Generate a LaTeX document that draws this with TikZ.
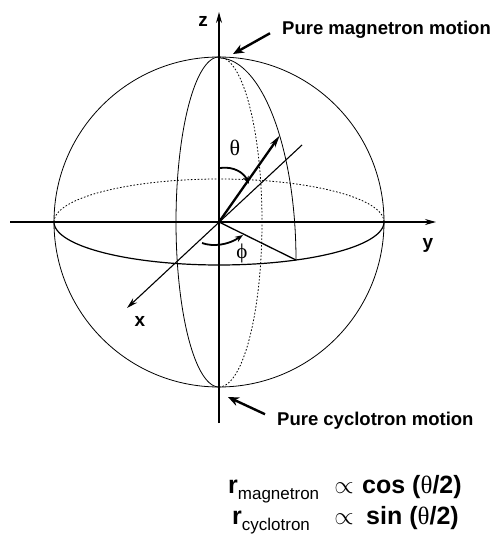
\documentclass[tikz,border=0pt]{standalone}
\usepackage{fontspec}
\setmainfont{Liberation Sans}
\newfontfamily\grk{Liberation Serif}
\usetikzlibrary{arrows.meta}
\begin{document}
\begin{tikzpicture}[x=1pt,y=-1pt,
  outline/.style={line width=0.8pt},
  meridian/.style={line width=0.8pt},
  backline/.style={line width=0.8pt,dash pattern=on 1.6pt off 1.8pt},
  axis/.style={line width=1.3pt,-{Stealth[length=11pt,width=6pt]}},
  vec/.style={line width=2.3pt,-{Stealth[length=12pt,width=6pt]}},
  anglearrow/.style={line width=1.8pt,-{Stealth[length=8pt,width=6pt]}},
  callout/.style={line width=2.4pt,-{Stealth[length=11pt,width=9pt]}},
  lab/.style={font=\bfseries\fontsize{19}{20}\selectfont},
  note/.style={font=\bfseries\fontsize{18.5}{20}\selectfont, anchor=base west, inner sep=0pt},
  formula/.style={font=\bfseries\fontsize{25}{27}\selectfont, inner sep=0pt}]
\useasboundingbox (0,0) rectangle (497,540);
\coordinate (O) at (219,222);
\coordinate (N) at (219,57);
\coordinate (S) at (219,387);
\coordinate (P) at (296,260);
\coordinate (T) at ({219+77*cos(38)},{260-202*sin(38)});
% sphere outline
\draw[outline] (O) circle[radius=165];
% equator
\draw[line width=1.2pt] plot[domain=0:180,samples=80,variable=\t] ({219+165*cos(\t)},{222+43*sin(\t)});
\draw[backline] plot[domain=180:360,samples=80,variable=\t] ({219+165*cos(\t)},{222+43*sin(\t)});
% x-z meridian
\draw[meridian] plot[domain=90:270,samples=80,variable=\t] ({219+43*cos(\t)},{222-165*sin(\t)});
\draw[backline] plot[domain=-90:90,samples=80,variable=\t] ({219+43*cos(\t)},{222-165*sin(\t)});
% phi meridian (front quarter)
\draw[meridian] plot[domain=0:90,samples=60,variable=\t] ({219+77*cos(\t)},{260-202*sin(\t)});
% axes
\coordinate (zb) at (219,423);
\coordinate (zt) at (219,12);
\coordinate (yl) at (10,222);
\coordinate (yr) at (436,222);
\coordinate (xb) at (302,145);
\coordinate (xt) at (127,308);
\draw[axis] (zb) -- (zt);
\draw[axis] (yl) -- (yr);
\draw[axis,line width=1.1pt] (xb) -- (xt);
% projection line
\draw[line width=1.3pt] (O) -- (P);
% vector
\draw[vec] (O) -- (T);
% theta arc
\coordinate (th1) at (220,168);
\coordinate (th2) at (249,184);
\draw[anglearrow] (th1) .. controls (234,166) and (244,173) .. (th2);
% phi arc
\coordinate (ph1) at (202,243);
\coordinate (ph2) at (243,235);
\draw[anglearrow] (ph1) .. controls (213,247) and (228,245) .. (ph2);
% labels
\node[lab] (lz) at (203,21) {z};
\node[lab] (ly) at (428,245) {y};
\node[lab] (lx) at (140,321) {x};
\node[font=\grk\fontsize{22}{22}\selectfont] (lth) at (235,148) {θ};
\node[font=\grk\fontsize{21}{22}\selectfont] (lph) at (242,253) {ϕ};
% callouts
\node[note] (mag) at (282,35) {Pure magnetron motion};
\node[note] (cyc) at (277,425) {Pure cyclotron motion};
\coordinate (magtip) at (233,54);
\coordinate (cyctip) at (228,397);
\draw[callout] (mag.west) ++(-12,3) -- (magtip);
\draw[callout] (cyc.west) ++(-12,-6) -- (cyctip);
% formulas
\node[formula, anchor=base west] (r1) at (228,493) {r\raisebox{-6pt}{\mdseries\fontsize{17}{17}\selectfont magnetron}};
\node[formula, anchor=base] (p1) at (344,493) {$\propto$};
\node[formula, anchor=base west] (f1) at (362,493) {cos ({\grk\mdseries θ}/2)};
\node[formula, anchor=base west] (r2) at (232,524) {r\raisebox{-6pt}{\mdseries\fontsize{17}{17}\selectfont cyclotron}};
\node[formula, anchor=base] (p2) at (344,524) {$\propto$};
\node[formula, anchor=base west] (f2) at (366,524) {sin ({\grk\mdseries θ}/2)};
\end{tikzpicture}
\end{document}
